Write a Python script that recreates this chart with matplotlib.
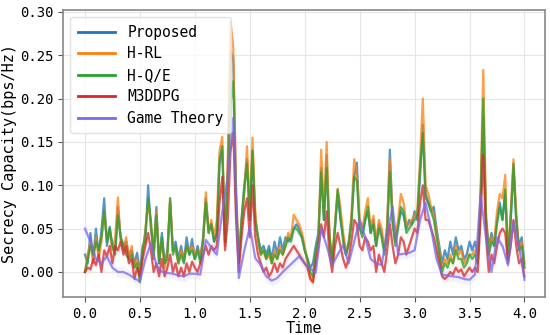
import numpy as np
import matplotlib
matplotlib.use("Agg")
import matplotlib.pyplot as plt

# time axis of the learning-based methods (step 0.025) and of Game Theory (step 0.05)
time = np.round(np.arange(0, 161) * 0.025, 3)
time_game = np.round(np.arange(0, 81) * 0.05, 3)

proposed = [
    0.020, 0.010, 0.045, 0.015, 0.050, 0.020, 0.048, 0.085, 0.030, 0.052,
    0.030, 0.025, 0.075, 0.040, 0.030, 0.035, 0.020, 0.025, 0.010, 0.022,
    0.000, 0.030, 0.035, 0.100, 0.050, 0.025, 0.075, 0.010, 0.045, 0.010,
    0.025, 0.080, 0.025, 0.035, 0.015, 0.030, 0.012, 0.040, 0.020, 0.038,
    0.015, 0.030, 0.015, 0.040, 0.085, 0.050, 0.055, 0.035, 0.045, 0.125,
    0.140, 0.035, 0.120, 0.255, 0.245, 0.090, 0.010, 0.060, 0.100, 0.130,
    0.060, 0.140, 0.060, 0.040, 0.025, 0.030, 0.020, 0.030, 0.015, 0.035,
    0.020, 0.040, 0.025, 0.040, 0.035, 0.040, 0.050, 0.055, 0.050, 0.040,
    0.025, 0.015, 0.005, 0.010, 0.030, 0.045, 0.120, 0.060, 0.135, 0.040,
    0.015, 0.050, 0.090, 0.060, 0.040, 0.020, 0.035, 0.060, 0.110, 0.126,
    0.050, 0.045, 0.060, 0.070, 0.045, 0.060, 0.030, 0.055, 0.045, 0.025,
    0.050, 0.141, 0.060, 0.035, 0.055, 0.070, 0.065, 0.050, 0.060, 0.055,
    0.070, 0.060, 0.110, 0.170, 0.090, 0.080, 0.070, 0.075, 0.050, 0.030,
    0.010, 0.025, 0.015, 0.035, 0.020, 0.040, 0.025, 0.030, 0.015, 0.020,
    0.035, 0.025, 0.035, 0.020, 0.080, 0.180, 0.060, 0.030, 0.045, 0.030,
    0.060, 0.080, 0.060, 0.090, 0.020, 0.060, 0.120, 0.060, 0.030, 0.040,
    0.010,
]

h_rl = [
    0.000, 0.020, 0.035, 0.010, 0.040, 0.015, 0.035, 0.070, 0.040, 0.045,
    0.025, 0.040, 0.086, 0.035, 0.025, 0.040, 0.015, 0.030, 0.005, 0.015,
    -0.010, 0.020, 0.050, 0.080, 0.055, 0.020, 0.070, 0.015, 0.035, 0.005,
    0.020, 0.085, 0.030, 0.025, 0.010, 0.025, 0.015, 0.030, 0.025, 0.030,
    0.020, 0.025, 0.020, 0.035, 0.092, 0.045, 0.060, 0.040, 0.060, 0.140,
    0.156, 0.030, 0.130, 0.289, 0.258, 0.100, 0.015, 0.055, 0.090, 0.145,
    0.070, 0.155, 0.070, 0.035, 0.020, 0.025, 0.015, 0.020, 0.010, 0.025,
    0.015, 0.030, 0.020, 0.030, 0.045, 0.040, 0.066, 0.060, 0.055, 0.045,
    0.030, 0.010, -0.005, -0.010, 0.020, 0.040, 0.141, 0.070, 0.150, 0.045,
    0.010, 0.055, 0.096, 0.075, 0.045, 0.025, 0.030, 0.065, 0.130, 0.115,
    0.060, 0.050, 0.070, 0.085, 0.050, 0.065, 0.035, 0.060, 0.050, 0.025,
    0.055, 0.130, 0.065, 0.040, 0.060, 0.090, 0.080, 0.055, 0.055, 0.060,
    0.065, 0.070, 0.130, 0.200, 0.100, 0.090, 0.075, 0.065, 0.045, 0.025,
    0.005, 0.015, 0.010, 0.020, 0.010, 0.030, 0.020, 0.025, 0.010, 0.015,
    0.020, 0.020, 0.025, 0.010, 0.090, 0.233, 0.070, 0.020, 0.040, 0.035,
    0.070, 0.090, 0.085, 0.112, 0.015, 0.070, 0.130, 0.070, 0.025, 0.035,
    0.005,
]

h_qe = [
    0.000, 0.015, 0.030, 0.020, 0.035, 0.025, 0.040, 0.070, 0.035, 0.050,
    0.030, 0.020, 0.065, 0.040, 0.030, 0.020, 0.015, 0.020, 0.005, 0.010,
    -0.012, 0.025, 0.045, 0.085, 0.060, 0.015, 0.065, 0.010, 0.040, 0.010,
    0.015, 0.085, 0.020, 0.030, 0.010, 0.020, 0.010, 0.030, 0.020, 0.025,
    0.015, 0.025, 0.010, 0.035, 0.080, 0.045, 0.055, 0.035, 0.045, 0.130,
    0.145, 0.035, 0.110, 0.194, 0.220, 0.080, 0.010, 0.060, 0.095, 0.125,
    0.065, 0.140, 0.060, 0.040, 0.020, 0.025, 0.015, 0.025, 0.010, 0.020,
    0.015, 0.025, 0.020, 0.030, 0.040, 0.035, 0.050, 0.050, 0.045, 0.040,
    0.025, 0.015, 0.000, -0.005, 0.025, 0.040, 0.115, 0.060, 0.120, 0.040,
    0.010, 0.050, 0.095, 0.065, 0.035, 0.020, 0.030, 0.055, 0.110, 0.105,
    0.050, 0.040, 0.060, 0.075, 0.045, 0.055, 0.030, 0.050, 0.040, 0.020,
    0.045, 0.115, 0.055, 0.030, 0.050, 0.075, 0.070, 0.045, 0.050, 0.055,
    0.060, 0.065, 0.120, 0.160, 0.085, 0.080, 0.070, 0.060, 0.040, 0.020,
    0.000, 0.010, 0.005, 0.015, 0.010, 0.025, 0.015, 0.015, 0.005, 0.010,
    0.020, 0.015, 0.020, 0.010, 0.080, 0.200, 0.060, 0.020, 0.035, 0.030,
    0.055, 0.075, 0.060, 0.095, 0.015, 0.060, 0.125, 0.060, 0.025, 0.030,
    0.005,
]

m3ddpg = [
    0.000, 0.005, 0.003, 0.015, 0.008, 0.020, 0.000, 0.025, 0.018, 0.030,
    0.010, 0.030, 0.025, 0.035, 0.020, 0.030, 0.010, 0.015, -0.008, 0.005,
    -0.005, 0.015, 0.030, 0.045, 0.025, 0.000, 0.010, -0.005, 0.015, -0.005,
    0.005, 0.020, 0.000, 0.010, -0.005, 0.005, -0.005, 0.010, 0.000, 0.012,
    0.005, 0.000, 0.010, 0.020, 0.030, 0.020, 0.030, 0.025, 0.030, 0.080,
    0.110, 0.025, 0.060, 0.140, 0.160, 0.060, 0.000, 0.040, 0.070, 0.085,
    0.040, 0.100, 0.040, 0.020, 0.010, 0.000, 0.005, -0.005, 0.000, 0.010,
    0.000, 0.010, 0.005, 0.015, 0.020, 0.025, 0.030, 0.025, 0.020, 0.015,
    0.010, 0.005, -0.008, -0.012, 0.010, 0.030, 0.055, 0.040, 0.070, 0.020,
    0.000, 0.030, 0.045, 0.030, 0.015, 0.005, 0.015, 0.035, 0.060, 0.055,
    0.030, 0.025, 0.040, 0.035, 0.025, 0.030, 0.000, 0.020, 0.010, 0.000,
    0.025, 0.055, 0.030, 0.010, 0.020, 0.040, 0.035, 0.020, 0.030, 0.040,
    0.050, 0.045, 0.080, 0.100, 0.060, 0.060, 0.050, 0.040, 0.025, 0.010,
    -0.005, -0.008, -0.005, 0.000, -0.003, 0.005, 0.000, 0.003, -0.005, 0.000,
    0.005, 0.000, 0.005, 0.000, 0.060, 0.135, 0.040, 0.000, 0.020, 0.010,
    0.030, 0.045, 0.050, 0.045, 0.010, 0.030, 0.060, 0.030, 0.010, 0.015,
    -0.005,
]

game_theory = [
    0.050, 0.035, 0.015, 0.010, 0.018, 0.005, 0.000, 0.000, -0.003, -0.007,
    -0.011, 0.015, 0.033, 0.008, 0.000, -0.001, -0.002, -0.004, -0.005, -0.002,
    -0.002, -0.003, 0.037, 0.028, 0.020, 0.070, 0.110, 0.178, -0.007, 0.025,
    0.052, 0.016, 0.008, -0.005, -0.010, -0.007, 0.000, 0.006, 0.012, 0.018,
    0.010, 0.004, -0.001, 0.050, 0.030, 0.008, 0.020, 0.031, 0.010, 0.035,
    0.060, 0.040, 0.015, 0.010, 0.008, 0.045, 0.075, 0.020, 0.021, 0.022,
    0.025, 0.060, 0.080, 0.050, 0.015, -0.003, -0.004, -0.005, -0.006, -0.008,
    -0.009, -0.003, 0.089, 0.040, 0.000, 0.040, 0.030, 0.008, 0.058, 0.030,
    -0.009,
]

labels = ["Proposed", "H-RL", "H-Q/E", "M3DDPG", "Game Theory"]
colors = ["#1f77b4", "#ff7f0e", "#2ca02c", "#d62728", "#7b68ee"]

plt.rcParams['font.family'] = ['DejaVu Sans Mono']

fig = plt.figure(figsize=(5.5, 3.35), dpi=100)
ax = fig.add_axes([0.1145, 0.113, 0.877, 0.857])

series = [(time, proposed), (time, h_rl), (time, h_qe), (time, m3ddpg), (time_game, game_theory)]
for (t, y), l, c in zip(series, labels, colors):
    y = np.array(y)
    ax.fill_between(t, y - 0.006, y + 0.006, color=c, alpha=0.08, linewidth=0)
    ax.plot(t, y, color=c, linewidth=1.6, alpha=0.75, label=l)

ax.set_xlabel("Time", fontsize=11, labelpad=0)
ax.set_ylabel("Secrecy Capacity(bps/Hz)", fontsize=11, labelpad=2)
ax.set_xticks([0.0, 0.5, 1.0, 1.5, 2.0, 2.5, 3.0, 3.5, 4.0])
ax.set_yticks([0.00, 0.05, 0.10, 0.15, 0.20, 0.25, 0.30])
ax.set_xlim(-0.2, 4.19)
ax.set_ylim(-0.029, 0.302)
ax.tick_params(labelsize=10, color="#555555")
ax.grid(color="#e6e6e6", linewidth=0.8)
for s in ax.spines.values():
    s.set_color("#888888")
    s.set_linewidth(1.2)

leg = ax.legend(loc="upper left", fontsize=10.5, handlelength=2.6, framealpha=0.8,
                borderpad=0.5, labelspacing=0.45, edgecolor="#dddddd")
for line in leg.get_lines():
    line.set_linewidth(2)
    line.set_alpha(1)

fig.savefig("out.png", dpi=100)
